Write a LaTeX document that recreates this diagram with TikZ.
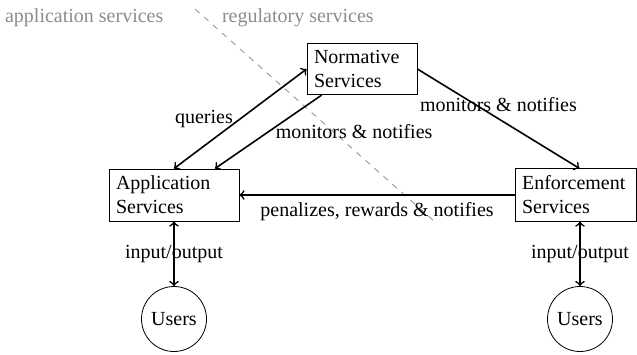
\documentclass[tikz,border=0pt]{standalone}
\usepackage{fontspec}
\setmainfont{Liberation Serif}
\usetikzlibrary{arrows,shapes,backgrounds}

\tikzset{
	svc/.style={draw, line width=0.4pt, align=left, inner sep=3.5pt},
	usr/.style={draw, line width=0.4pt, circle, minimum size=32.5pt, inner sep=0pt},
	link/.style={line width=0.8pt},
	side/.style={text=black!45}
}

\begin{document}
\begin{tikzpicture}[x=0.5pt, y=-0.5pt]
	\useasboundingbox (0,0) rectangle (637,354);
	\clip (0,0) rectangle (637,354);
	\node [svc, text width=48pt] (norm) at (362, 69) {Normative\\Services};
	\node [svc, text width=58pt] (app) at (174, 195) {Application\\Services};
	\node [svc, text width=53.4pt] (enf) at (575.5, 195) {Enforcement\\Services};
	\node [usr] (usera) at (174, 319) {Users};
	\node [usr] (userb) at (580, 319) {Users};
	\node [side, anchor=west] (appside) at (-2, 18) {application services};
	\node [side, anchor=west] (regside) at (215, 18) {regulatory services};
	\draw [black!45, line width=0.4pt, dashed] (195, 9) -- (435, 222);
	\draw [link, <->] (app.north) -- node [left] {queries} (norm.west);
	\draw [link, ->] ([xshift=7.5pt]norm.south west) -- node [right] {monitors \& notifies} ([xshift=20.5pt]app.north);
	\draw [link, ->] (norm.east) -- node [above] {monitors \& notifies} ([xshift=2pt]enf.north);
	\draw [link, ->] (enf.west) -- node [below] {penalizes, rewards \& notifies} (app.east);
	\draw [link, <->] (app.south) -- node {input/output} (usera.north);
	\draw [link, <->] (userb |- enf.south) -- node {input/output} (userb.north);
\end{tikzpicture}
\end{document}
